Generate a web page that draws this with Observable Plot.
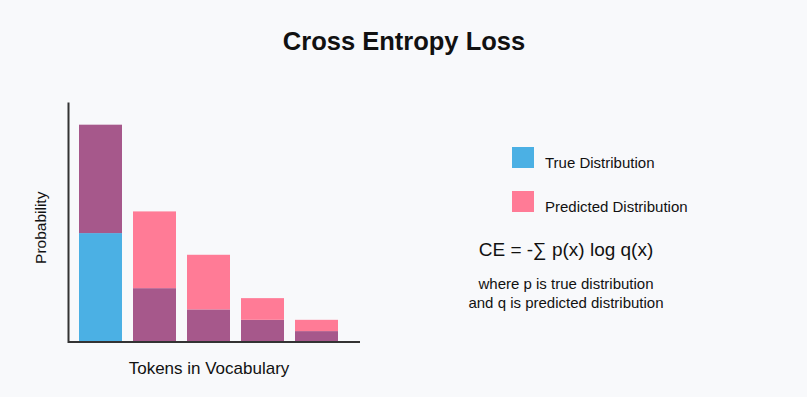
<!DOCTYPE html>
<html>
<head>
<meta charset="utf-8">
<script src="https://cdn.jsdelivr.net/npm/d3@7"></script>
<script src="https://cdn.jsdelivr.net/npm/@observablehq/plot@0.6"></script>
<style>
  html, body { margin: 0; padding: 0; background: #f8f9fb; }
  #wrap { position: relative; width: 807px; height: 397px; overflow: hidden;
          font-family: "Liberation Sans", Arial, sans-serif; color: #111; }
  #chart { position: absolute; left: 0; top: 0; }
  .abs { position: absolute; white-space: nowrap; line-height: 1; }
  .swatch { position: absolute; width: 22px; height: 21px; }
</style>
</head>
<body>
<div id="wrap">
  <div id="chart"></div>
  <div class="abs" id="title" style="left:0;width:808px;text-align:center;top:29px;font-size:25.5px;font-weight:bold;">Cross Entropy Loss</div>
  <div class="abs" id="xlabel" style="left:109px;width:200px;text-align:center;top:360px;font-size:17px;">Tokens in Vocabulary</div>
  <div class="abs" id="ylabel" style="left:-59px;width:200px;text-align:center;top:220px;font-size:15.5px;transform:rotate(-90deg);">Probability</div>
  <div id="legend"></div>
  <div class="abs" style="left:416px;width:300px;text-align:center;top:240px;font-size:19px;" id="formula"></div>
  <div class="abs" style="left:416px;width:300px;text-align:center;top:274px;font-size:15px;line-height:19px;" id="note"></div>
</div>
<script>
// ---- data ----
const tokens = ["t1", "t2", "t3", "t4", "t5"];
const predicted = [0.5, 0.3, 0.2, 0.1, 0.05];        // full bar height
const lowerPart = [0.25, 0.123, 0.074, 0.05, 0.024]; // lower segment height
const lowerKind = ["true", "overlap", "overlap", "overlap", "overlap"];
const upperKind = ["overlap", "predicted", "predicted", "predicted", "predicted"];
const legendLabels = ["True Distribution", "Predicted Distribution"];
const formulaText = "CE = -\u2211 p(x) log q(x)";
const noteLines = ["where p is true distribution", "and q is predicted distribution"];

const kinds = ["true", "predicted", "overlap"];
const colors = ["#4bb0e4", "#ff7b96", "#a6588b"];

const segments = [];
tokens.forEach((t, i) => {
  segments.push({token: t, y1: 0, y2: lowerPart[i], kind: lowerKind[i]});
  segments.push({token: t, y1: lowerPart[i], y2: predicted[i], kind: upperKind[i]});
});

const chart = Plot.plot({
  width: 807,
  height: 397,
  marginLeft: 68,
  marginRight: 447,
  marginTop: 103,
  marginBottom: 55.5,
  style: {background: "transparent", overflow: "visible"},
  x: {domain: tokens, paddingInner: 0.2, paddingOuter: 0.291, align: 0.35, axis: null},
  y: {domain: [0, 0.55], axis: null},
  color: {domain: kinds, range: colors},
  marks: [
    Plot.barY(segments, {x: "token", y1: "y1", y2: "y2", fill: "kind"}),
    Plot.frame({anchor: "left", stroke: "#333", strokeWidth: 2}),
    Plot.ruleY([0], {stroke: "#333", strokeWidth: 2})
  ]
});
document.getElementById("chart").appendChild(chart);

// legend
const legend = document.getElementById("legend");
legendLabels.forEach((lab, i) => {
  const top = 147 + i * 44;
  const sw = document.createElement("div");
  sw.className = "swatch";
  sw.style.left = "512px";
  sw.style.top = top + "px";
  sw.style.background = colors[i];
  legend.appendChild(sw);
  const tx = document.createElement("div");
  tx.className = "abs";
  tx.style.left = "545px";
  tx.style.top = (top + 7.5) + "px";
  tx.style.fontSize = "15px";
  tx.textContent = lab;
  legend.appendChild(tx);
});
document.getElementById("formula").textContent = formulaText;
document.getElementById("note").innerHTML = noteLines.join("<br>");
</script>
</body>
</html>
